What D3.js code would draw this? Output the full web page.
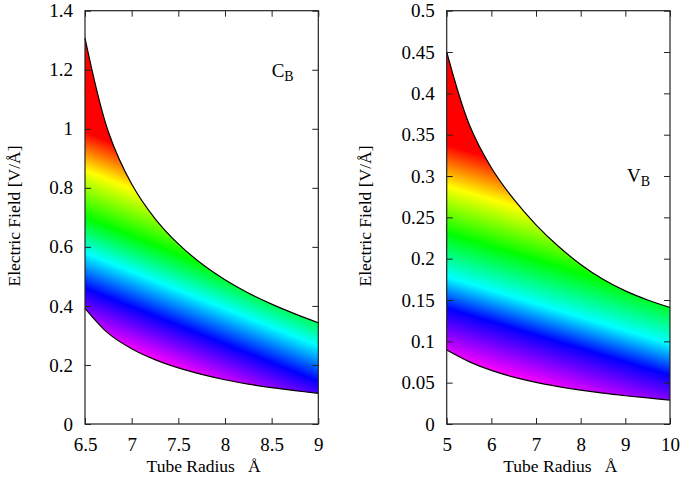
<!DOCTYPE html>
<html><head><meta charset="utf-8">
<script src="https://cdn.jsdelivr.net/npm/d3@7"></script>
<style>
html,body{margin:0;padding:0;background:#fff;}
svg text{font-family:"Liberation Serif","Times New Roman",Times,"DejaVu Serif",serif !important;fill:#000;}
</style></head>
<body>
<svg id="chart" width="685" height="479"></svg>
<script>
// ---------- data ----------
const leftRadius = [6.5, 6.75, 7, 7.25, 7.5, 7.75, 8, 8.25, 8.5, 8.75, 9];
const leftUpper  = [1.307, 0.990, 0.813, 0.696, 0.610, 0.543, 0.489, 0.444, 0.406, 0.373, 0.343];
const leftLower  = [0.392, 0.307, 0.255, 0.218, 0.190, 0.168, 0.150, 0.135, 0.123, 0.113, 0.104];
const leftXTicks = [6.5, 7, 7.5, 8, 8.5, 9];
const leftYTicks = [0, 0.2, 0.4, 0.6, 0.8, 1, 1.2, 1.4];
const leftColorStops = [
  {color:"#ff0000", field:0.99}, {color:"#ff8000", field:0.925}, {color:"#ffff00", field:0.86},
  {color:"#00ff00", field:0.70}, {color:"#00ffff", field:0.58}, {color:"#0000ff", field:0.46},
  {color:"#ff00ff", field:0.31}];
const leftBandSlope = -0.126;

const rightRadius = [5, 5.5, 6, 6.5, 7, 7.5, 8, 8.5, 9, 9.5, 10];
const rightUpper  = [0.450, 0.363, 0.310, 0.272, 0.241, 0.215, 0.193, 0.175, 0.161, 0.150, 0.141];
const rightLower  = [0.0895, 0.0755, 0.0648, 0.0568, 0.0504, 0.0453, 0.0410, 0.0373, 0.0342, 0.0315, 0.029];
const rightXTicks = [5, 6, 7, 8, 9, 10];
const rightYTicks = [0, 0.05, 0.1, 0.15, 0.2, 0.25, 0.3, 0.35, 0.4, 0.45, 0.5];
const rightColorStops = [
  {color:"#ff0000", field:0.338}, {color:"#ff8000", field:0.313}, {color:"#ffff00", field:0.288},
  {color:"#00ff00", field:0.231}, {color:"#00ffff", field:0.178}, {color:"#0000ff", field:0.140},
  {color:"#ff00ff", field:0.081}];
const rightBandSlope = -0.0162;

const panels = [
  {id:"L", left:85, width:233.3, xDomain:[6.5,9], yDomain:[0,1.4], radius:leftRadius, upper:leftUpper, lower:leftLower,
   xTicks:leftXTicks, yTicks:leftYTicks, stops:leftColorStops, bandSlope:leftBandSlope,
   label:"C", labelPos:[8.5,1.175], yLabelX:14},
  {id:"R", left:446.7, width:223.3, xDomain:[5,10], yDomain:[0,0.5], radius:rightRadius, upper:rightUpper, lower:rightLower,
   xTicks:rightXTicks, yTicks:rightYTicks, stops:rightColorStops, bandSlope:rightBandSlope,
   label:"V", labelPos:[9.04,0.293], yLabelX:365}
];

const svg = d3.select("#chart");
const defs = svg.append("defs");
const plotTop = 10.7, plotHeight = 413.3;
const serif = '"Liberation Serif","Times New Roman",Times,"DejaVu Serif",serif';

panels.forEach(p => {
  const x = d3.scaleLinear().domain(p.xDomain).range([0, p.width]);
  const y = d3.scaleLinear().domain(p.yDomain).range([plotHeight, 0]);
  const g = svg.append("g").attr("transform", `translate(${p.left},${plotTop})`);

  // gradient perpendicular to slanted colour bands
  const x0 = p.xDomain[0];
  const m = (y(p.stops[0].field + p.bandSlope) - y(p.stops[0].field)) / (x(x0 + 1) - x(x0));
  const norm = Math.sqrt(1 + m * m);
  const sMin = y(p.stops[0].field), sMax = y(p.stops[p.stops.length - 1].field);
  const L = (sMax - sMin) / norm;
  const nx = -m / norm, ny = 1 / norm;
  const px0 = x(x0);
  const grad = defs.append("linearGradient").attr("id", "grad" + p.id)
    .attr("gradientUnits", "userSpaceOnUse")
    .attr("x1", px0).attr("y1", sMin)
    .attr("x2", px0 + nx * L).attr("y2", sMin + ny * L);
  p.stops.forEach(s => {
    grad.append("stop").attr("offset", (y(s.field) - sMin) / (sMax - sMin)).attr("stop-color", s.color);
  });

  const pts = p.radius.map((r, i) => ({r, up:p.upper[i], lo:p.lower[i]}));
  const curve = d3.curveCatmullRom.alpha(0.5);
  const area = d3.area().x(d => x(d.r)).y0(d => y(d.lo)).y1(d => y(d.up)).curve(curve);
  g.append("path").datum(pts).attr("d", area).attr("fill", `url(#grad${p.id})`);
  const lineUp = d3.line().x(d => x(d.r)).y(d => y(d.up)).curve(curve);
  const lineLo = d3.line().x(d => x(d.r)).y(d => y(d.lo)).curve(curve);
  g.append("path").datum(pts).attr("d", lineUp).attr("fill", "none").attr("stroke", "#000").attr("stroke-width", 1.2);
  g.append("path").datum(pts).attr("d", lineLo).attr("fill", "none").attr("stroke", "#000").attr("stroke-width", 1.2);

  // axes (ticks inward, mirrored)
  const fmt = d => String(+d.toFixed(2));
  const tk = 6;
  const axB = g.append("g").attr("transform", `translate(0,${plotHeight})`)
    .call(d3.axisBottom(x).tickValues(p.xTicks).tickSize(-tk).tickPadding(14).tickFormat(fmt));
  const axT = g.append("g").call(d3.axisTop(x).tickValues(p.xTicks).tickSize(-tk).tickFormat(""));
  const axL = g.append("g").call(d3.axisLeft(y).tickValues(p.yTicks).tickSize(-tk).tickPadding(12).tickFormat(fmt));
  const axR = g.append("g").attr("transform", `translate(${p.width},0)`)
    .call(d3.axisRight(y).tickValues(p.yTicks).tickSize(-tk).tickFormat(""));
  [axB, axT, axL, axR].forEach(a => {
    a.attr("font-family", serif);
    a.select(".domain").remove();
    a.selectAll("line").attr("stroke", "#222").attr("stroke-width", 1);
    a.selectAll("text").attr("font-family", serif).attr("font-size", 19).attr("fill", "#000");
  });
  g.append("rect").attr("x", 0).attr("y", 0).attr("width", p.width).attr("height", plotHeight)
    .attr("fill", "none").attr("stroke", "#222").attr("stroke-width", 1.2);

  // axis titles
  svg.append("text").attr("x", p.left + p.width / 2 + 2).attr("y", 472)
    .attr("text-anchor", "middle").attr("font-size", 17.5).attr("font-family", serif)
    .attr("xml:space", "preserve")
    .text("Tube Radius   Å");
  svg.append("text").attr("transform", `translate(${p.yLabelX + 6},216) rotate(-90)`)
    .attr("text-anchor", "middle").attr("font-size", 17.5).attr("font-family", serif)
    .text("Electric Field [V/Å]");

  // panel label
  const lab = g.append("text").attr("x", x(p.labelPos[0])).attr("y", y(p.labelPos[1]))
    .attr("font-size", 19).attr("font-family", serif);
  lab.append("tspan").text(p.label);
  lab.append("tspan").attr("font-size", 14).attr("dy", 4).text("B");
});
</script>
</body></html>
